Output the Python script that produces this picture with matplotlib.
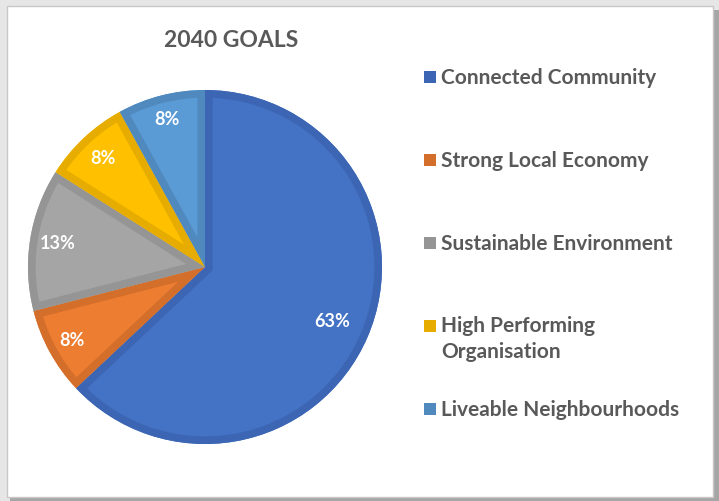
import matplotlib.pyplot as plt
from matplotlib.patches import Rectangle, Wedge
import numpy as np

plt.rcParams['font.family'] = ['Lato', 'DejaVu Sans']

categories = ["Connected Community", "Strong Local Economy", "Sustainable Environment",
              "High Performing\nOrganisation", "Liveable Neighbourhoods"]
shares = [63, 8, 13, 8, 8]
pct_labels = ["63%", "8%", "13%", "8%", "8%"]
fill_colors = ["#4472C4", "#ED7D31", "#A5A5A5", "#FFC000", "#5B9BD5"]
edge_colors = ["#3C66B3", "#D46F2B", "#959595", "#E6AD00", "#5089BE"]
label_dist = [0.78, 0.86, 0.84, 0.84, 0.86]

W, H = 719, 501
fig = plt.figure(figsize=(W / 100, H / 100), dpi=100)

# frame with drop shadow around the chart area
bg = fig.add_axes([0, 0, 1, 1])
bg.set_xlim(0, W)
bg.set_ylim(H, 0)
bg.axis('off')
bg.add_patch(Rectangle((0, 0), W, H, facecolor="#e6e6e6", edgecolor="none"))
bg.add_patch(Rectangle((10, 10), W - 10, H - 10, facecolor="#a6a6a6", edgecolor="none"))
bg.add_patch(Rectangle((7, 6), 706, 491, facecolor="white", edgecolor="#c8c8c8", linewidth=1))

# pie
cx, cy, r = 205, 267, 177
ax = fig.add_axes([(cx - r) / W, (H - cy - r) / H, 2 * r / W, 2 * r / H])
wedges, _ = ax.pie(shares, colors=fill_colors, startangle=90, counterclock=False,
                   wedgeprops=dict(linewidth=0))
ax.set_xlim(-1, 1)
ax.set_ylim(-1, 1)
ax.set_aspect('equal')
ax.axis('off')

for w, ec, lab, d in zip(wedges, edge_colors, pct_labels, label_dist):
    # inner stroke clipped to the wedge
    stroke = Wedge(w.center, w.r, w.theta1, w.theta2, facecolor="none",
                   edgecolor=ec, linewidth=11, joinstyle='miter')
    ax.add_patch(stroke)
    stroke.set_clip_path(w)
    mid = np.deg2rad((w.theta1 + w.theta2) / 2)
    ax.text(d * np.cos(mid), d * np.sin(mid), lab, ha='center', va='center',
            color='white', fontsize=13, fontweight='bold')

fig.text(231 / W, 1 - 41 / H, "2040 GOALS", ha='center', va='center',
         color="#595959", fontsize=16.5, fontweight='bold')

# legend
leg_y = [77, 160, 243, 326, 409]
for cat, col, y in zip(categories, edge_colors, leg_y):
    bg.add_patch(Rectangle((424, y - 6), 12, 12, facecolor=col, edgecolor='none'))
    if '\n' in cat:
        bg.text(441, y - 10, cat, ha='left', va='top',
                color="#595959", fontsize=15, fontweight='bold', linespacing=1.4)
    else:
        bg.text(441, y + 1, cat, ha='left', va='center',
                color="#595959", fontsize=15, fontweight='bold')

fig.savefig("out.png", dpi=100)
